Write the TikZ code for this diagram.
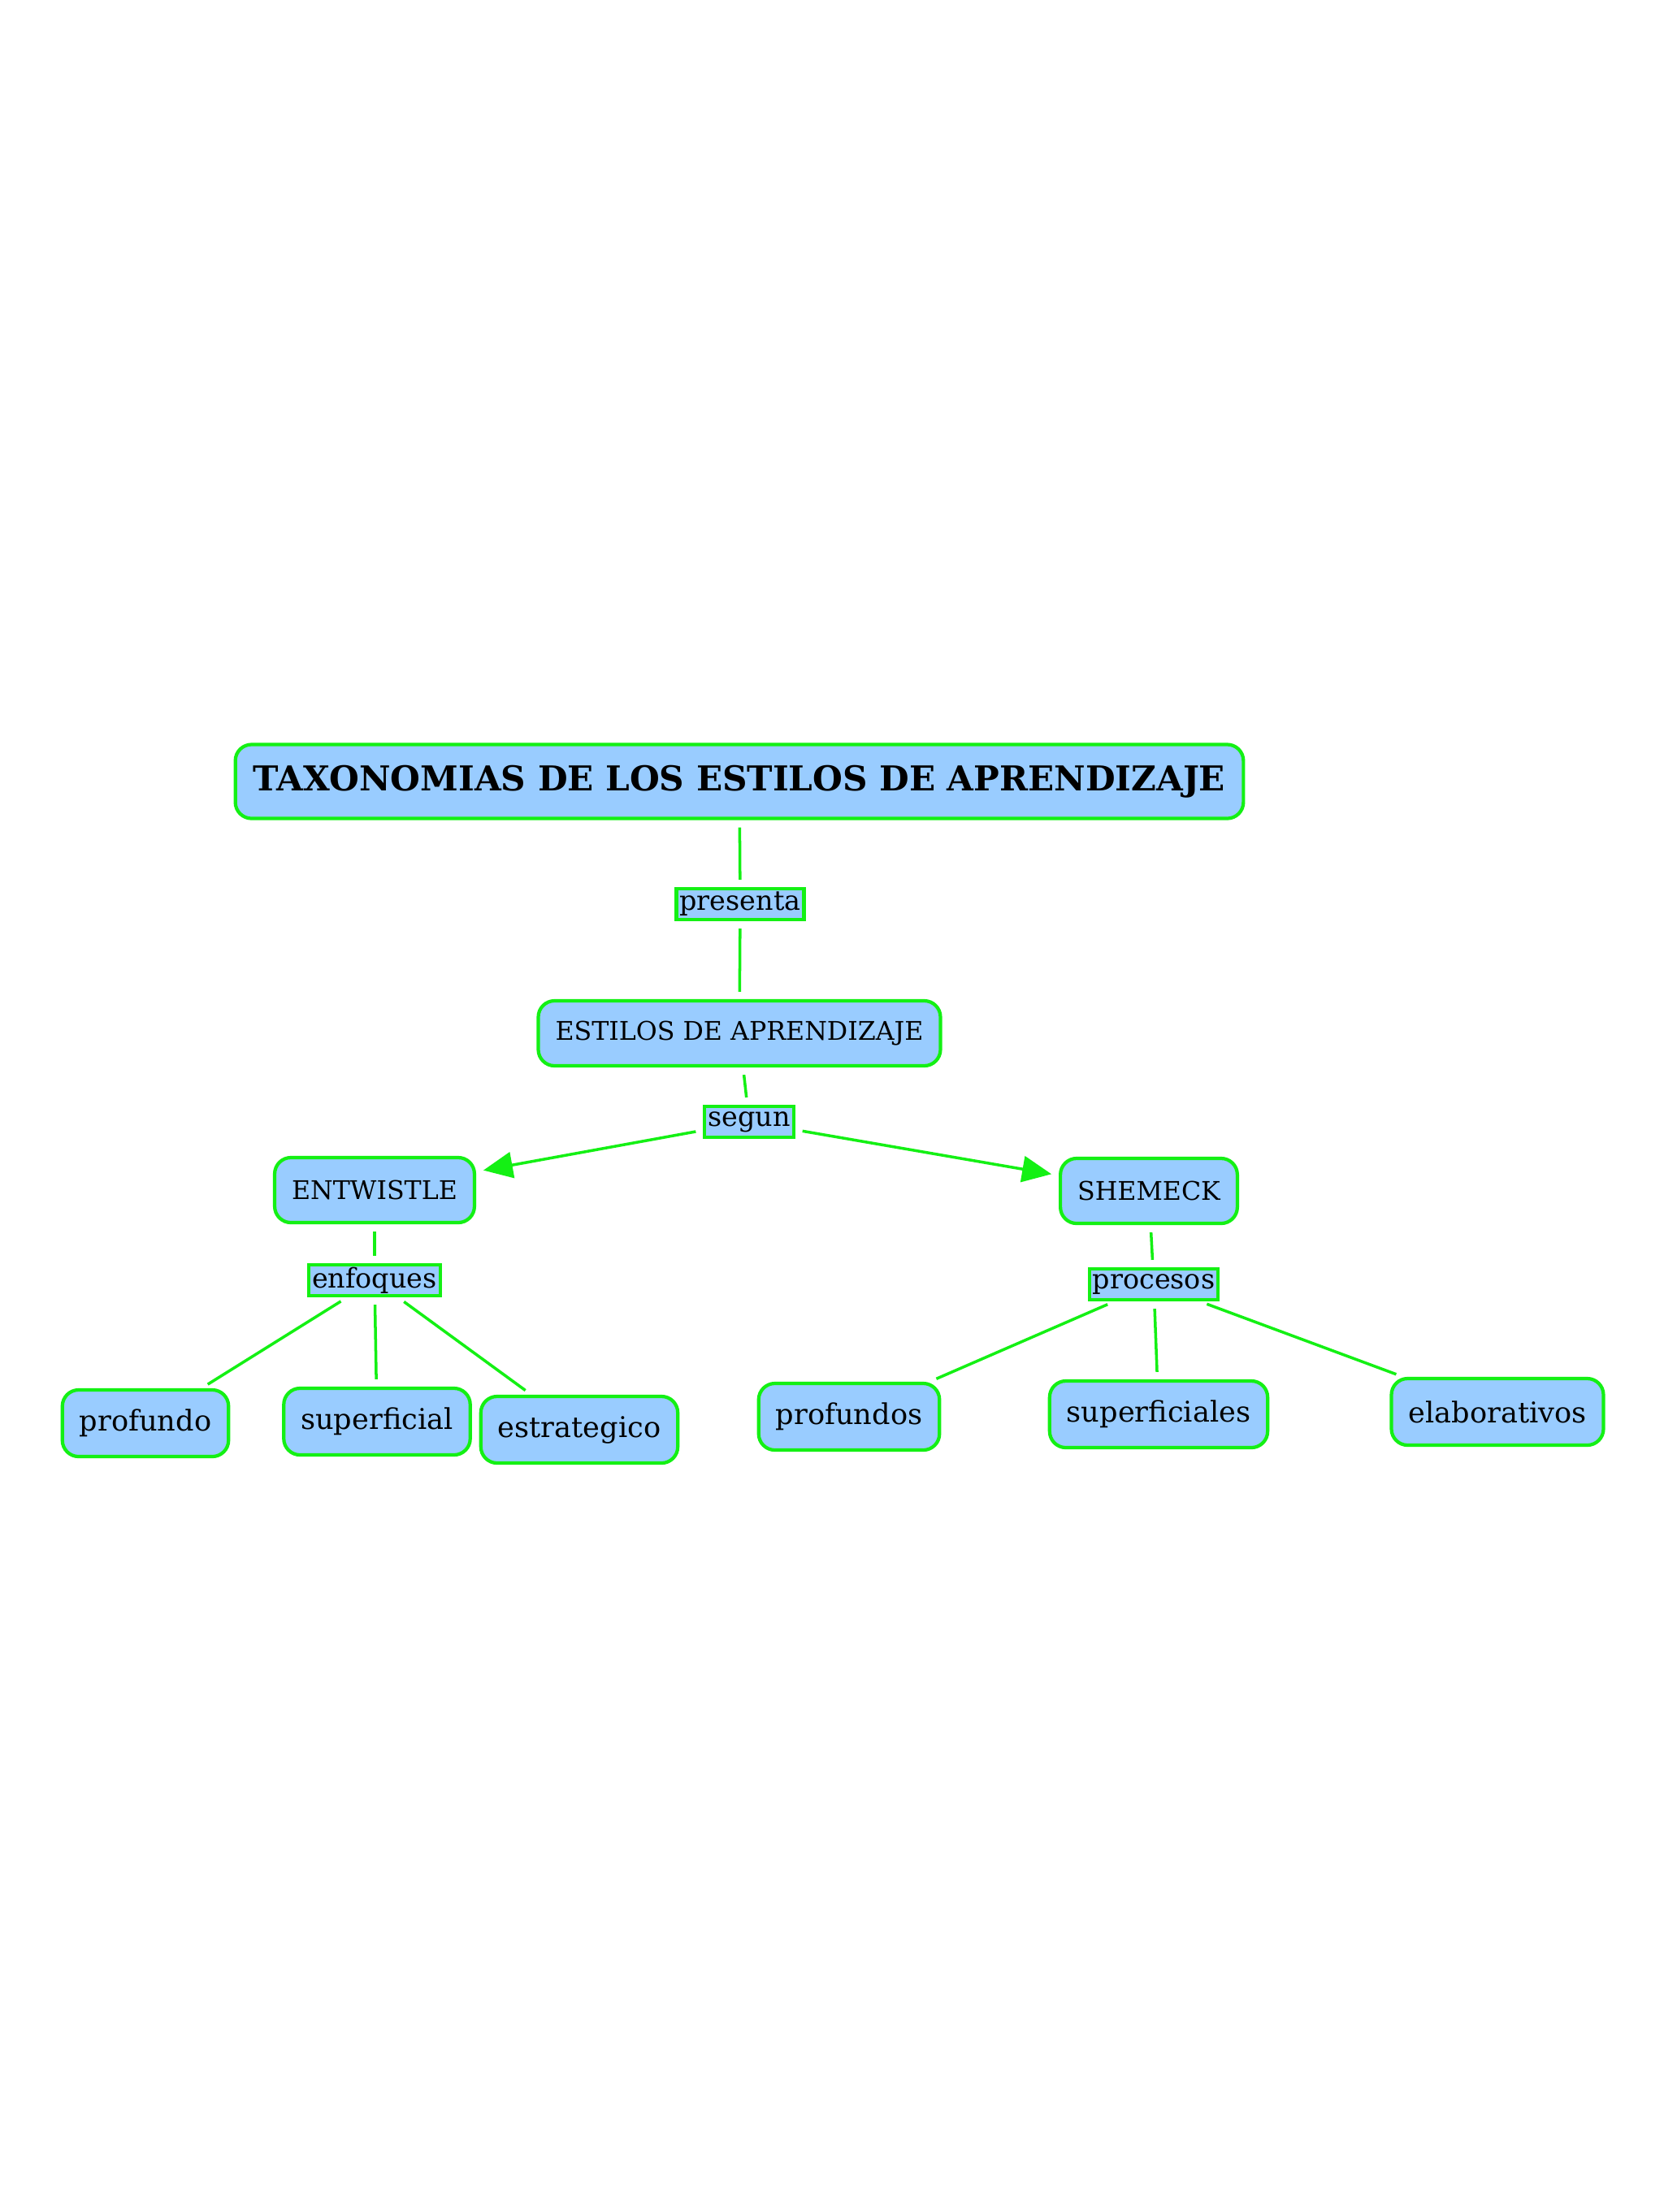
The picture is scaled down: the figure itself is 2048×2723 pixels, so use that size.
\documentclass[tikz,border=0pt]{standalone}
\usepackage{fontspec}
\setmainfont{DejaVu Serif}
\usetikzlibrary{arrows.meta}

\definecolor{mapblue}{RGB}{153,204,255}
\definecolor{mapgreen}{RGB}{20,240,20}

\tikzset{
  concept/.style={draw=mapgreen, fill=mapblue, line width=1.2pt,
    rounded corners=0.2cm, inner xsep=0.21cm, minimum height=0.8cm,
    font=\fontsize{10}{12}\selectfont},
  upper/.style={concept, font=\fontsize{9}{11}\selectfont},
  phrase/.style={draw=mapgreen, fill=mapblue, line width=1.2pt,
    inner xsep=0.04cm, inner ysep=0.02cm, minimum height=0.38cm,
    font=\fontsize{9.5}{11}\selectfont},
  link/.style={draw=mapgreen, line width=1pt,
    shorten <=0.09cm, shorten >=0.09cm},
  linkarrow/.style={link, -{Triangle[length=0.36cm,width=0.32cm]}}
}

\begin{document}
\begin{tikzpicture}[x=0.01cm, y=-0.01cm]
  \fill[white] (0,0) rectangle (2048,2723);
  \useasboundingbox (0,0) rectangle (2048,2723);

  % top of the map
  \node[concept, minimum width=12.4cm, minimum height=0.91cm,
    font=\fontsize{12}{14}\selectfont\bfseries] (title) at (910,962)
    {TAXONOMIAS DE LOS ESTILOS DE APRENDIZAJE};
  \node[phrase] (presenta) at (911,1113) {presenta};
  \node[upper] (estilos) at (910,1272) {ESTILOS DE APRENDIZAJE};
  \node[phrase] (segun) at (922,1381) {segun};

  \node[upper] (entwistle) at (461,1465) {ENTWISTLE};
  \node[upper] (shemeck) at (1414,1466) {SHEMECK};
  \node[phrase] (enfoques) at (461,1576) {enfoques};
  \node[phrase] (procesos) at (1420,1581) {procesos};

  % leaves
  \foreach \name/\x/\y/\txt in {profundo/179/1752/profundo,
      superficial/464/1750/superficial, estrategico/713/1760/estrategico,
      profundos/1045/1744/profundos, superficiales/1426/1741/superficiales,
      elaborativos/1843/1738/elaborativos} {
    \node[concept, minimum height=0.82cm] (\name) at (\x,\y) {\txt};
  }

  \foreach \a/\b in {title/presenta, presenta/estilos, estilos/segun,
      entwistle/enfoques, shemeck/procesos,
      enfoques/profundo, enfoques/superficial, enfoques/estrategico,
      procesos/profundos, procesos/superficiales, procesos/elaborativos} {
    \draw[link] (\a) -- (\b);
  }

  \draw[linkarrow] (segun) -- (entwistle);
  \draw[linkarrow] (segun) -- (shemeck);
\end{tikzpicture}
\end{document}
